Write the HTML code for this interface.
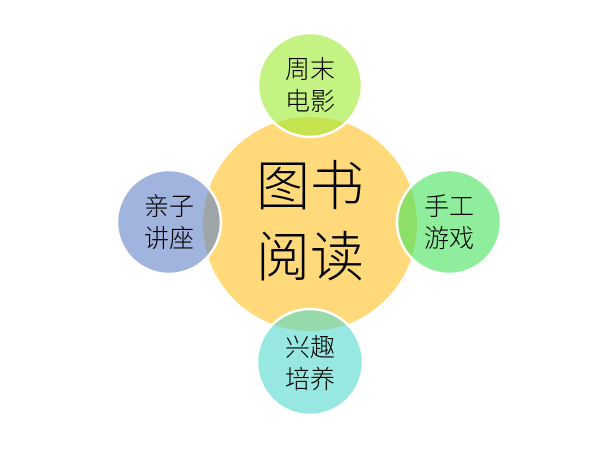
<!DOCTYPE html>
<html><head><meta charset="utf-8"><style>
body{margin:0;background:#fff;width:615px;height:445px;overflow:hidden}
text{font-family:"Liberation Sans","Noto Sans CJK SC",sans-serif;fill:#000;text-anchor:middle;font-weight:300}
</style></head><body>
<svg width="615" height="445" viewBox="0 0 615 445">
<circle cx="310" cy="224" r="107" fill="#FFD97A"/>
<g stroke="#fff" stroke-width="2.5">
<circle cx="310" cy="85" r="52" fill="rgba(157,233,48,0.6)"/>
<circle cx="169" cy="222" r="52" fill="rgba(97,130,200,0.6)"/>
<circle cx="449" cy="222" r="52" fill="rgba(67,227,90,0.6)"/>
<circle cx="310" cy="362" r="53" fill="rgba(82,217,203,0.6)"/>
</g>
<text x="310" y="205" font-size="54">图书</text>
<text x="310" y="276" font-size="54">阅读</text>
<text x="310" y="78" font-size="25">周末</text>
<text x="310" y="110" font-size="25">电影</text>
<text x="169" y="215" font-size="25">亲子</text>
<text x="169" y="247" font-size="25">讲座</text>
<text x="449" y="215" font-size="25">手工</text>
<text x="449" y="247" font-size="25">游戏</text>
<text x="310" y="356" font-size="25">兴趣</text>
<text x="310" y="388" font-size="25">培养</text>
</svg>
</body></html>
